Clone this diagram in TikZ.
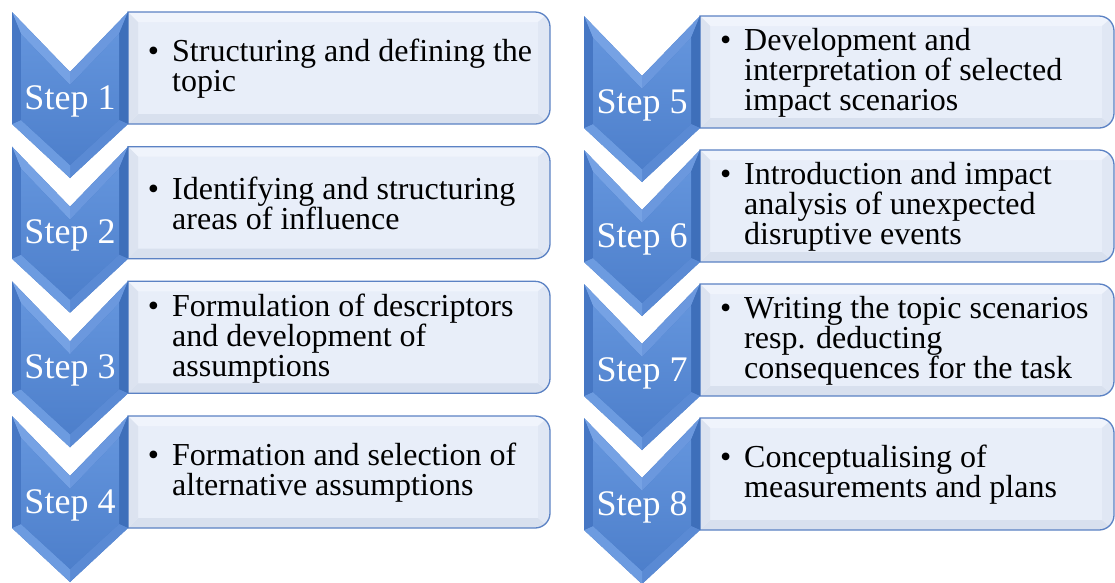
\documentclass[tikz,border=0pt]{standalone}
\usepackage{fontspec}
\setmainfont{Liberation Serif}
\definecolor{chevout}{HTML}{4A7CC8}
\definecolor{facetTL}{HTML}{76A2E4}
\definecolor{facetTR}{HTML}{6B98DE}
\definecolor{facetR}{HTML}{3E6FBA}
\definecolor{facetBR}{HTML}{5A8AD4}
\definecolor{facetBL}{HTML}{6C9BE0}
\definecolor{facetL}{HTML}{4677C4}
\definecolor{innertop}{HTML}{6394DC}
\definecolor{innerbot}{HTML}{4D7FCB}
\definecolor{boxfill}{HTML}{E8EEF9}
\definecolor{boxline}{HTML}{5B82C4}
\definecolor{boxtop}{HTML}{F0F4FC}
\definecolor{boxbot}{HTML}{D8E0EE}
\definecolor{boxleft}{HTML}{DCE3F0}
\definecolor{boxright}{HTML}{E0E7F4}
\tikzset{
  steplabel/.style={text=white,inner sep=0pt,font=\fontsize{36}{36}\selectfont},
  itemtext/.style={text=black,inner sep=0pt,anchor=west,align=left,font=\fontsize{32}{30}\selectfont},
}
% #1 number, #2 x left, #3 y top, #4 box right x, #5 text
\newcommand\stepblock[5]{%
  \pgfmathsetmacro\bw{#4-#2}%
  \begin{scope}[shift={(#2,#3)}]
    % box
    \begin{scope}
      \clip (116,0) -- ({\bw-15},0) arc[start angle=-90,end angle=0,radius=15]
        -- (\bw,97) arc[start angle=0,end angle=90,radius=15] -- (116,112) -- cycle;
      \fill[boxfill] (116,0) rectangle (\bw,112);
      \fill[boxtop] (116,0) -- (\bw,0) -- ({\bw-12},10) -- (126,10) -- cycle;
      \fill[boxbot] (116,112) -- (\bw,112) -- ({\bw-12},102) -- (126,102) -- cycle;
      \fill[boxleft] (116,0) -- (126,10) -- (126,102) -- (116,112) -- cycle;
      \fill[boxright] (\bw,0) -- ({\bw-12},10) -- ({\bw-12},102) -- (\bw,112) -- cycle;
    \end{scope}
    \draw[boxline,line width=1.3pt] (116,0) -- ({\bw-15},0) arc[start angle=-90,end angle=0,radius=15]
        -- (\bw,97) arc[start angle=0,end angle=90,radius=15] -- (116,112) -- cycle;
    % chevron
    \fill[chevout] (0,0) -- (58,60) -- (116,0) -- (116,112) -- (58,166) -- (0,112) -- cycle;
    \fill[facetTL] (0,0) -- (58,60) -- (58,73) -- (9,22) -- cycle;
    \fill[facetTR] (58,60) -- (116,0) -- (107,22) -- (58,73) -- cycle;
    \fill[facetR] (116,0) -- (116,112) -- (107,108) -- (107,22) -- cycle;
    \fill[facetBR] (116,112) -- (58,166) -- (58,153) -- (107,108) -- cycle;
    \fill[facetBL] (58,166) -- (0,112) -- (9,108) -- (58,153) -- cycle;
    \fill[facetL] (0,112) -- (0,0) -- (9,22) -- (9,108) -- cycle;
    \shade[top color=innertop,bottom color=innerbot] (9,22) -- (58,73) -- (107,22) -- (107,108) -- (58,153) -- (9,108) -- cycle;
    \node[steplabel] (s#1) at (58,89) {Step #1};
    \node[itemtext] (t#1) at (160,57) {#5};
  \end{scope}
}
\begin{document}
\begin{tikzpicture}[x=1pt,y=-1pt]
\useasboundingbox[fill=white] (0,0) rectangle (1115,582);
\stepblock{1}{12}{12}{550}{\llap{\textbullet\hspace{13pt}}Structuring and defining the\\topic}
\stepblock{2}{12}{146.7}{550}{\llap{\textbullet\hspace{13pt}}Identifying and structuring\\areas of influence}
\stepblock{3}{12}{281.3}{550}{\llap{\textbullet\hspace{13pt}}Formulation of descriptors\\and development of\\assumptions}
\stepblock{4}{12}{416}{550}{\llap{\textbullet\hspace{13pt}}Formation and selection of\\alternative assumptions}
\stepblock{5}{584}{16}{1114}{\llap{\textbullet\hspace{13pt}}Development and\\interpretation of selected\\impact scenarios}
\stepblock{6}{584}{150}{1114}{\llap{\textbullet\hspace{13pt}}Introduction and impact\\analysis of unexpected\\disruptive events}
\stepblock{7}{584}{284}{1114}{\llap{\textbullet\hspace{13pt}}Writing the topic scenarios\\resp. deducting\\consequences for the task}
\stepblock{8}{584}{418}{1114}{\llap{\textbullet\hspace{13pt}}Conceptualising of\\measurements and plans}
\end{tikzpicture}
\end{document}
